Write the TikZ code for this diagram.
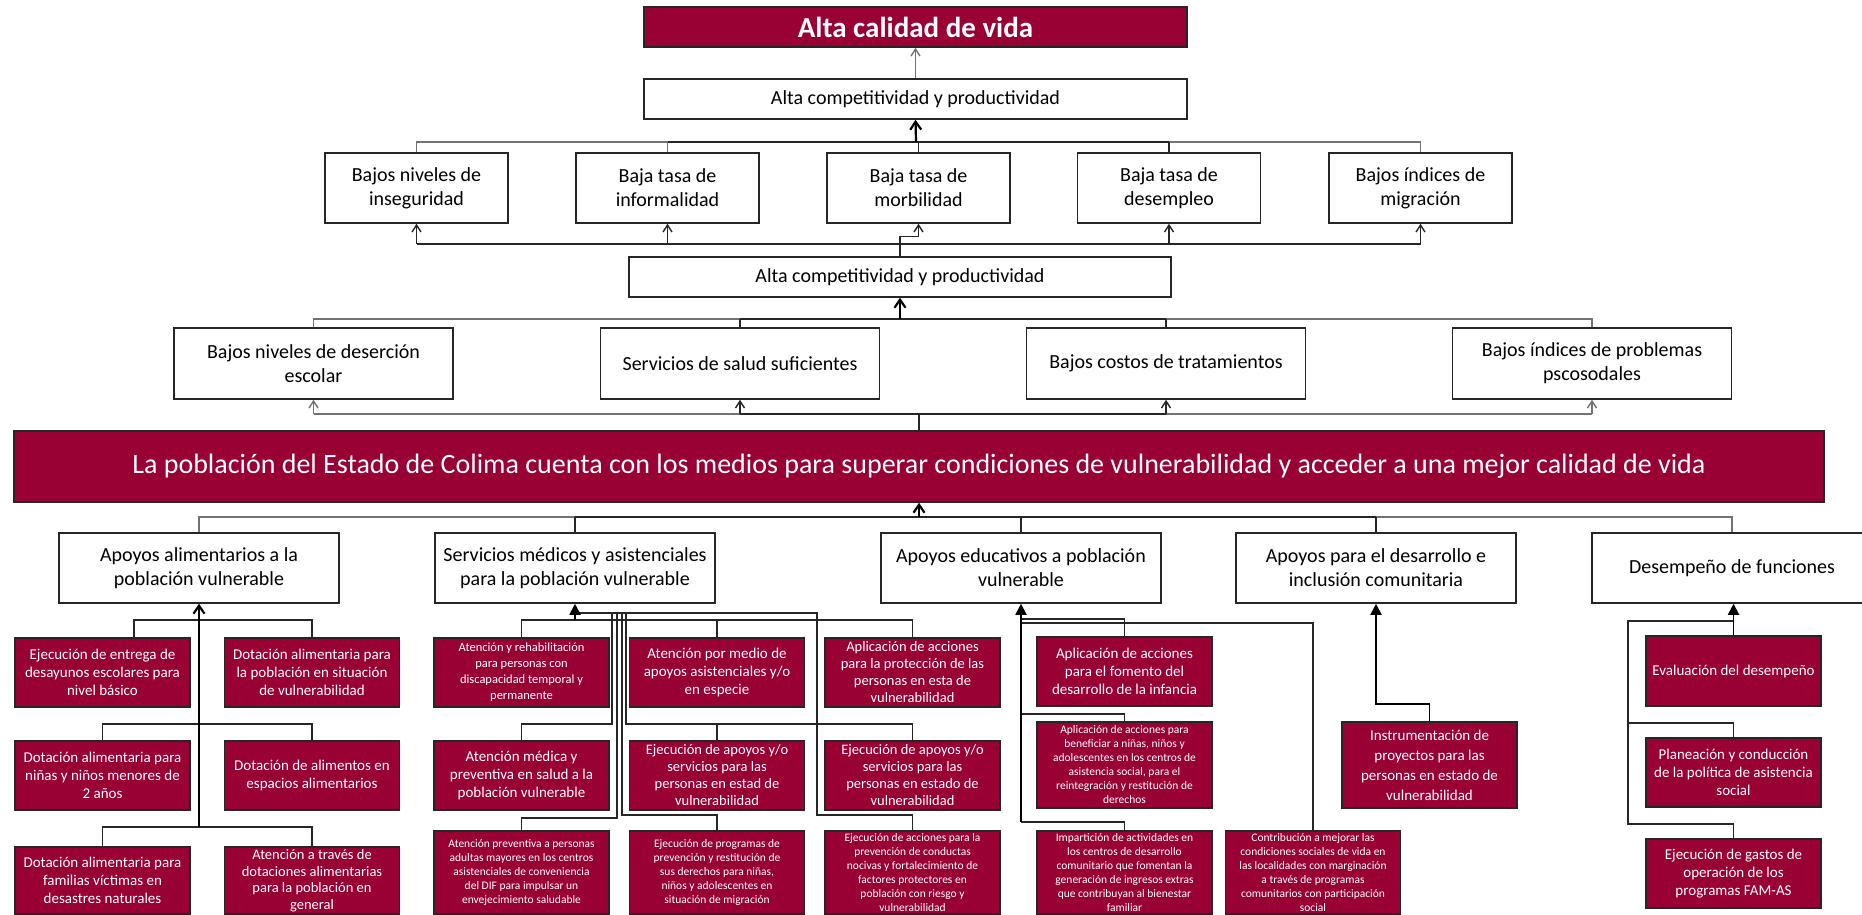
\documentclass[tikz,border=0pt]{standalone}
\usepackage{fontspec}
\setmainfont{Carlito}
\usetikzlibrary{arrows.meta}

\definecolor{guinda}{RGB}{153,0,51}

\begin{document}
\begin{tikzpicture}[
    x=1pt, y=-1pt,
    %% 1 unit = 1 px of the 1862 x 914 layout, y grows downwards
    wbox/.style={draw=black!85, line width=1.5pt, fill=white, align=center,
                 inner sep=2pt, font=\fontsize{20}{24}\selectfont},
    gbox/.style={draw=black!85, line width=1.5pt, fill=guinda, text=white,
                 align=center, inner sep=0pt},
    sbox/.style={gbox, minimum width=175pt, font=\fontsize{15}{18}\selectfont},
    tbox/.style={gbox, minimum width=175pt, font=\fontsize{11.5}{14}\selectfont},
    conn/.style={draw=black!85, line width=1.4pt},
    pale/.style={draw=black!55, line width=1.4pt},
    uparrow/.style={conn, -{Straight Barb[length=7pt,width=9pt]}},
    paleup/.style={pale, -{Straight Barb[length=7pt,width=9pt]}},
    bigarrow/.style={draw=black, line width=2.2pt, -{Straight Barb[length=8pt,width=11pt]}},
    fullarrow/.style={draw=black, line width=1.8pt, -{Triangle[length=11pt,width=11pt]}},
]

\useasboundingbox (0,0) rectangle (1862,914);
\fill[white] (0,0) rectangle (1862,914);
\clip (0,0) rectangle (1862,914);

%% ── Fines ────────────────────────────────────────────────────────────────
\node[gbox, minimum width=543pt, minimum height=40pt,
      font=\fontsize{29}{33}\selectfont\bfseries] (vida) at (915.5,27)
    {Alta calidad de vida};

\node[wbox, minimum width=543pt, minimum height=40pt] (comp1) at (915.5,99)
    {Alta competitividad y productividad};

\node[wbox, minimum width=183pt, minimum height=70pt] (inseg)    at (416.5,188) {Bajos niveles de\\inseguridad};
\node[wbox, minimum width=183pt, minimum height=70pt] (informal) at (667.5,188) {Baja tasa de\\informalidad};
\node[wbox, minimum width=183pt, minimum height=70pt] (morbi)    at (918.5,188) {Baja tasa de\\morbilidad};
\node[wbox, minimum width=183pt, minimum height=70pt] (desemp)   at (1169,188)  {Baja tasa de\\desempleo};
\node[wbox, minimum width=183pt, minimum height=70pt] (migra)    at (1420.5,188) {Bajos índices de\\migración};

\node[wbox, minimum width=542pt, minimum height=40pt] (comp2) at (900,277)
    {Alta competitividad y productividad};

%% ── Efectos directos ─────────────────────────────────────────────────────
\node[wbox, minimum width=279pt, minimum height=71pt] (desercion) at (313.5,363.5) {Bajos niveles de deserción\\escolar};
\node[wbox, minimum width=279pt, minimum height=71pt] (salud)     at (740,363.5)   {Servicios de salud suficientes};
\node[wbox, minimum width=279pt, minimum height=71pt] (costos)    at (1166,363.5)  {Bajos costos de tratamientos};
\node[wbox, minimum width=279pt, minimum height=71pt] (psico)     at (1592,363.5)  {Bajos índices de problemas\\pscosodales};

%% ── Propósito ────────────────────────────────────────────────────────────
\node[gbox, minimum width=1810pt, minimum height=71pt,
      font=\fontsize{28}{32}\selectfont] (proposito) at (919,466.5)
    {La población del Estado de Colima cuenta con los medios para superar condiciones de vulnerabilidad y acceder a una mejor calidad de vida};

%% ── Componentes ──────────────────────────────────────────────────────────
\node[wbox, minimum width=280pt, minimum height=70pt] (alim)      at (199,568)  {Apoyos alimentarios a la\\población vulnerable};
\node[wbox, minimum width=280pt, minimum height=70pt] (medicos)   at (575,568)  {Servicios médicos y asistenciales\\para la población vulnerable};
\node[wbox, minimum width=280pt, minimum height=70pt] (educ)      at (1021,568) {Apoyos educativos a población\\vulnerable};
\node[wbox, minimum width=280pt, minimum height=70pt] (comun)     at (1376,568) {Apoyos para el desarrollo e\\inclusión comunitaria};
\node[wbox, minimum width=280pt, minimum height=70pt] (funciones) at (1732,568) {Desempeño de funciones};

%% ═══════════════════════════════════════════════════════════════════════════
%% ACTIVIDADES
%% ═══════════════════════════════════════════════════════════════════════════
\node[sbox, minimum height=69pt] (ali1) at (102.5,672.5) {Ejecución de entrega de\\desayunos escolares para\\nivel básico};
\node[sbox, minimum height=69pt] (ali2) at (312,672.5)   {Dotación alimentaria para\\la población en situación\\de vulnerabilidad};
\node[sbox, minimum height=69pt] (ali3) at (102.5,775.5) {Dotación alimentaria para\\niñas y niños menores de\\2 años};
\node[sbox, minimum height=69pt] (ali4) at (312,775.5)   {Dotación de alimentos en\\espacios alimentarios};
\node[sbox, minimum height=67pt] (ali5) at (102.5,880.5) {Dotación alimentaria para\\familias víctimas en\\desastres naturales};
\node[sbox, minimum height=67pt, font=\fontsize{14.5}{16.5}\selectfont] (ali6) at (312,880.5)
    {Atención a través de\\dotaciones alimentarias\\para la población en\\general};

\node[sbox, minimum height=69pt, font=\fontsize{12.5}{16}\selectfont] (med1) at (521.5,672.5)
    {Atención y rehabilitación\\para personas con\\discapacidad temporal y\\permanente};
\node[sbox, minimum height=69pt] (med2) at (717,672.5)   {Atención por medio de\\apoyos asistenciales y/o\\en especie};
\node[sbox, minimum height=69pt, font=\fontsize{14.5}{17}\selectfont] (med3) at (912.5,672.5)
    {Aplicación de acciones\\para la protección de las\\personas en esta de\\vulnerabilidad};
\node[sbox, minimum height=69pt] (med4) at (521.5,775.5) {Atención médica y\\preventiva en salud a la\\población vulnerable};
\node[sbox, minimum height=69pt, font=\fontsize{14.5}{17}\selectfont] (med5) at (717,775.5)
    {Ejecución de apoyos y/o\\servicios para las\\personas en estad de\\vulnerabilidad};
\node[sbox, minimum height=69pt, font=\fontsize{14.5}{17}\selectfont] (med6) at (912.5,775.5)
    {Ejecución de apoyos y/o\\servicios para las\\personas en estado de\\vulnerabilidad};
\node[tbox, minimum height=83pt] (med7) at (521.5,872.5)
    {Atención preventiva a personas\\adultas mayores en los centros\\asistenciales de conveniencia\\del DIF para impulsar un\\envejecimiento saludable};
\node[tbox, minimum height=83pt] (med8) at (717,872.5)
    {Ejecución de programas de\\prevención y restitución de\\sus derechos para niñas,\\niños y adolescentes en\\situación de migración};
\node[tbox, minimum height=83pt] (med9) at (912.5,872.5)
    {Ejecución de acciones para la\\prevención de conductas\\nocivas y fortalecimiento de\\factores protectores en\\población con riesgo y\\vulnerabilidad};

\node[sbox, minimum height=69pt] (edu1) at (1124.5,671.5) {Aplicación de acciones\\para el fomento del\\desarrollo de la infancia};
\node[tbox, minimum height=86pt] (edu2) at (1124.5,765)
    {Aplicación de acciones para\\beneficiar a niñas, niños y\\adolescentes en los centros de\\asistencia social, para el\\reintegración y restitución de\\derechos};
\node[tbox, minimum height=83pt] (edu3) at (1124.5,872.5)
    {Impartición de actividades en\\los centros de desarrollo\\comunitario que fomentan la\\generación de ingresos extras\\que contribuyan al bienestar\\familiar};
\node[tbox, minimum height=83pt] (edu4) at (1313,872.5)
    {Contribución a mejorar las\\condiciones sociales de vida en\\las localidades con marginación\\a través de programas\\comunitarios con participación\\social};

\node[sbox, minimum height=86pt, font=\fontsize{15}{20}\selectfont] (proy) at (1429.5,765)
    {Instrumentación de\\proyectos para las\\personas en estado de\\vulnerabilidad};

\node[sbox, minimum height=70pt] (eval)  at (1733.5,671)   {Evaluación del desempeño};
\node[sbox, minimum height=69pt] (plan)  at (1733.5,772.5) {Planeación y conducción\\de la política de asistencia\\social};
\node[sbox, minimum height=69pt] (gasto) at (1733.5,873.5) {Ejecución de gastos de\\operación de los\\programas FAM-AS};

%% ── Conectores superiores ────────────────────────────────────────────────
\draw[paleup] (comp1.north) -- (vida.south);

\coordinate (j1) at (916,142);
\draw[pale] (inseg.north) |- (migra.north |- j1) -- (migra.north);
\draw[pale] (informal.north) -- (informal.north |- j1);
\draw[conn] (morbi.north) -- (morbi.north |- j1);
\draw[conn] (desemp.north) -- (desemp.north |- j1);
\draw[conn] (informal.north |- j1) -- (desemp.north |- j1);
\draw[bigarrow] (j1) -- (comp1.south);

\coordinate (j2) at (916,244);
\draw[conn] (inseg.south |- j2) -- (migra.south |- j2);
\draw[uparrow] (inseg.south |- j2) -- (inseg.south);
\draw[uparrow] (informal.south |- j2) -- (informal.south);
\draw[uparrow] (desemp.south |- j2) -- (desemp.south);
\draw[uparrow] (migra.south |- j2) -- (migra.south);
\draw[uparrow] (comp2.north) -- ++(0,-20) -| (morbi.south);

\coordinate (j3) at (900,319);
\draw[pale] (desercion.north) |- (psico.north |- j3) -- (psico.north);
\draw[conn] (salud.north) -- (salud.north |- j3);
\draw[conn] (costos.north) -- (costos.north |- j3);
\draw[conn] (salud.north |- j3) -- (costos.north |- j3);
\draw[bigarrow] (j3) -- (comp2.south);

\coordinate (j4) at (919,414);
\draw[pale] (desercion.south |- j4) -- (psico.south |- j4);
\draw[conn] (salud.south |- j4) -- (costos.south |- j4);
\draw[paleup] (desercion.south |- j4) -- (desercion.south);
\draw[uparrow] (salud.south |- j4) -- (salud.south);
\draw[uparrow] (costos.south |- j4) -- (costos.south);
\draw[paleup] (psico.south |- j4) -- (psico.south);
\draw[conn, line width=2.2pt] (proposito.north -| j4) -- (j4);

\coordinate (j5) at (919,517);
\draw[pale] (alim.north) |- (funciones.north |- j5) -- (funciones.north);
\draw[conn] (medicos.north) -- (medicos.north |- j5);
\draw[conn] (educ.north) -- (educ.north |- j5);
\draw[conn] (comun.north) -- (comun.north |- j5);
\draw[conn] (medicos.north |- j5) -- (comun.north |- j5);
\draw[bigarrow] (j5) -- (proposito.south);

%% ── Conectores de actividades ────────────────────────────────────────────
% alimentarios
\coordinate (a0) at (134,620);
\coordinate (a1) at (199,724);
\coordinate (a2) at (199,827);
\draw[conn] (ali1.north -| a0) -- (a0) -| (ali2.north);
\draw[conn] (ali3.north) |- (a1) -| (ali4.north);
\draw[conn] (ali5.north) |- (a2) -| (ali6.north);
\draw[bigarrow] (a2) -- (alim.south);

% medicos
\coordinate (m0) at (575,613);
\coordinate (m1) at (817,613);
\coordinate (m2) at (817,815);
\coordinate (mb) at (575,620);
\draw[conn] (med1.north) |- (med3.north |- mb) -- (med3.north);
\draw[conn] (med2.north) -- (med2.north |- mb);
\draw[conn] (m0) -- (m1) -- (m2) -| (med9.north);
\coordinate (v1) at (612,613);
\coordinate (v1b) at (612,724);
\coordinate (v2) at (617,613);
\coordinate (v2b) at (617,818);
\coordinate (v3) at (622,613);
\coordinate (v3b) at (622,815);
\coordinate (v4) at (626,613);
\coordinate (v4b) at (626,724);
\draw[conn] (v1) -- (v1b) -| (med4.north);
\draw[conn] (v2) -- (v2b) -| (med7.north);
\draw[conn] (v3) -- (v3b) -| (med8.north);
\draw[conn] (v4) -- (v4b) -| (med6.north);
\draw[conn] (med5.north) -- (med5.north |- v4b);
\draw[fullarrow] (mb) -- (medicos.south);

% educativos
\coordinate (e1) at (1021,619);
\coordinate (e2) at (1021,714);
\coordinate (e3) at (1021,822);
\coordinate (e4) at (1021,623);
\draw[conn] (e1) -| (edu1.north);
\draw[conn] (e2) -| (edu2.north);
\draw[conn] (e3) -| (edu3.north);
\draw[conn] (e4) -| (edu4.north);
\draw[fullarrow] (e3) -- (educ.south);

% comunitaria
\coordinate (p1) at (1376,704);
\draw[fullarrow] (proy.north) |- (p1) -- (comun.south);

% funciones
\coordinate (f1) at (1628,621);
\coordinate (f2) at (1628,723);
\coordinate (f3) at (1628,824);
\draw[conn] (eval.north |- f1) -- (f1) -- (f3) -| (gasto.north);
\draw[conn] (f2) -| (plan.north);
\draw[fullarrow] (eval.north) -- (eval.north |- funciones.south);

\end{tikzpicture}
\end{document}
